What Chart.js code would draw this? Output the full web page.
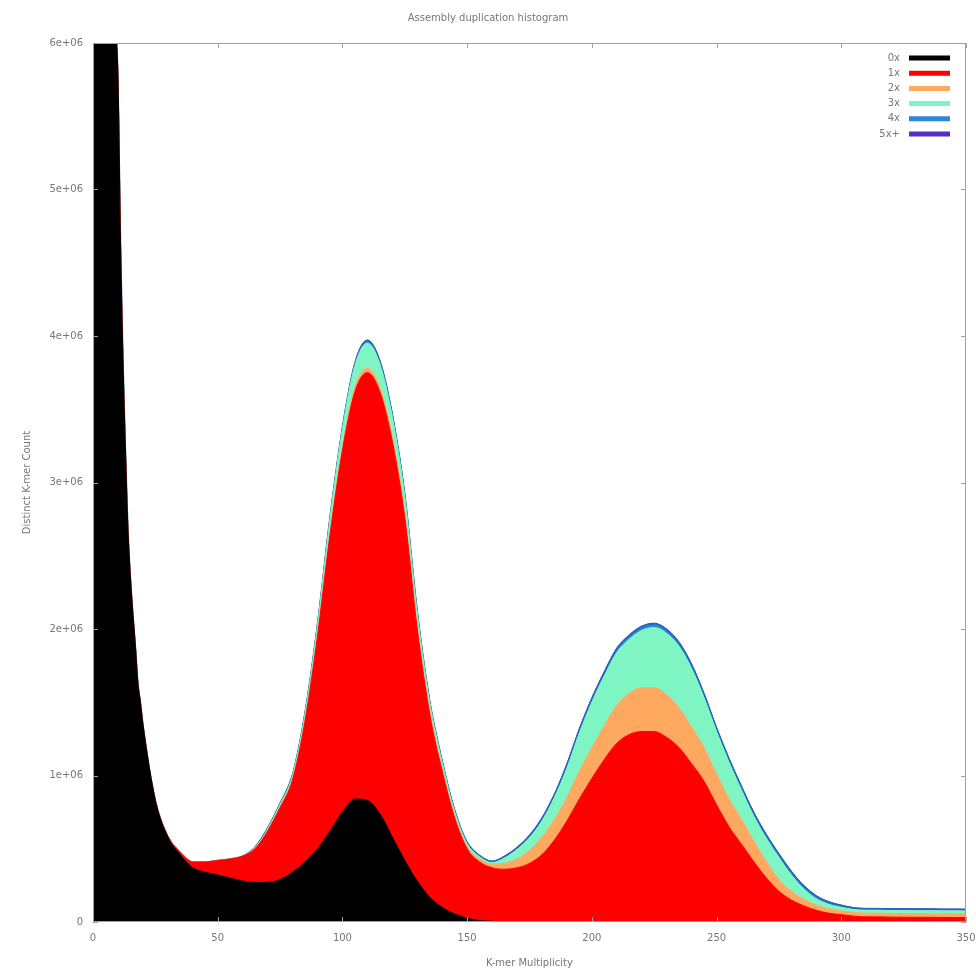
<!DOCTYPE html>
<html>
<head>
<meta charset="UTF-8">
<title>Assembly duplication histogram</title>
<style>
  html, body { margin: 0; padding: 0; background: #fff; }
  #wrap { width: 976px; height: 972px; }
</style>
</head>
<body>
<div id="wrap"><canvas id="cnPlot"></canvas></div>

<script src="https://cdn.jsdelivr.net/npm/chart.js@4.4.1/dist/chart.umd.min.js"></script>
<script>
// k-mer multiplicity (x); fine steps on the steep left part, then every 5
const xs = [
  0, 1, 2, 3, 4, 5, 6, 7, 8, 9, 10, 11, 12, 13, 14, 15, 16, 17, 18, 19, 20,
  25, 30, 35, 40, 45, 50, 55, 60,
  65, 70, 75, 80, 85, 90, 95, 100, 105, 110, 115, 120, 125, 130, 135, 140, 145, 150, 155, 160,
  165, 170, 175, 180, 185, 190, 195, 200, 205, 210, 215, 220, 225, 230, 235, 240, 245,
  250, 255, 260, 265, 270, 275, 280, 285, 290, 295, 300,
  305, 310, 315, 320, 325, 330, 335, 340, 345, 350
];

// distinct k-mer counts per copy number in the assembly, in millions
const count0x = [
  9.5, 9.5, 9.0, 8.5, 8.0, 7.5, 7.0, 6.6, 6.3, 6.1, 5.76, 4.66, 3.84, 3.22, 2.68, 2.35, 2.10, 1.88, 1.63, 1.50, 1.35,
  0.83, 0.58, 0.46, 0.37, 0.34, 0.32, 0.30, 0.28,
  0.27, 0.27, 0.29, 0.34, 0.41, 0.50, 0.62, 0.75, 0.84, 0.83, 0.74, 0.58, 0.42, 0.28, 0.17, 0.10, 0.055, 0.025, 0.01, 0.005,
  0, 0, 0, 0, 0, 0, 0, 0, 0, 0, 0, 0, 0, 0, 0, 0, 0,
  0, 0, 0, 0, 0, 0, 0, 0, 0, 0, 0,
  0, 0, 0, 0, 0, 0, 0, 0, 0, 0
];
const count1x = [
  0, 0, 0, 0, 0, 0, 0, 0, 0, 0, 0, 0, 0, 0, 0, 0, 0, 0, 0, 0, 0,
  0, 0.005, 0.015, 0.04, 0.07, 0.10, 0.13, 0.17,
  0.23, 0.35, 0.49, 0.63, 0.96, 1.45, 2.02, 2.47, 2.78, 2.92, 2.88, 2.70, 2.34, 1.72, 1.25, 0.93, 0.655, 0.475, 0.40, 0.365,
  0.36, 0.37, 0.40, 0.46, 0.56, 0.69, 0.84, 0.98, 1.11, 1.22, 1.28, 1.30, 1.30, 1.26, 1.19, 1.08, 0.96,
  0.80, 0.65, 0.53, 0.41, 0.30, 0.21, 0.15, 0.11, 0.08, 0.06, 0.05,
  0.04, 0.035, 0.035, 0.033, 0.033, 0.032, 0.032, 0.031, 0.031, 0.03
];
const count2x = [
  0, 0, 0, 0, 0, 0, 0, 0, 0, 0, 0, 0, 0, 0, 0, 0, 0, 0, 0, 0, 0,
  0, 0, 0, 0, 0, 0, 0, 0,
  0.003, 0.005, 0.008, 0.01, 0.012, 0.015, 0.02, 0.025, 0.03, 0.03, 0.03, 0.03, 0.025, 0.02, 0.02, 0.015, 0.015, 0.015, 0.02, 0.025,
  0.04, 0.06, 0.09, 0.12, 0.14, 0.16, 0.19, 0.21, 0.23, 0.26, 0.28, 0.30, 0.30, 0.29, 0.27, 0.25, 0.23,
  0.21, 0.19, 0.17, 0.14, 0.11, 0.08, 0.06, 0.045, 0.035, 0.03, 0.025,
  0.025, 0.025, 0.025, 0.025, 0.025, 0.025, 0.025, 0.025, 0.025, 0.025
];
const count3x = [
  0, 0, 0, 0, 0, 0, 0, 0, 0, 0, 0, 0, 0, 0, 0, 0, 0, 0, 0, 0, 0,
  0, 0, 0, 0, 0, 0, 0, 0,
  0.005, 0.01, 0.015, 0.02, 0.04, 0.06, 0.09, 0.12, 0.15, 0.17, 0.16, 0.14, 0.12, 0.09, 0.06, 0.045, 0.03, 0.02, 0.015, 0.01,
  0.037, 0.065, 0.085, 0.11, 0.15, 0.20, 0.26, 0.31, 0.34, 0.36, 0.37, 0.39, 0.41, 0.42, 0.42, 0.40, 0.34,
  0.29, 0.25, 0.20, 0.17, 0.16, 0.15, 0.11, 0.07, 0.043, 0.03, 0.025,
  0.02, 0.02, 0.02, 0.02, 0.02, 0.02, 0.02, 0.02, 0.02, 0.02
];
const count4x = [
  0, 0, 0, 0, 0, 0, 0, 0, 0, 0, 0, 0, 0, 0, 0, 0, 0, 0, 0, 0, 0,
  0, 0, 0, 0, 0, 0, 0, 0,
  0.003, 0.005, 0.005, 0.005, 0.006, 0.007, 0.008, 0.01, 0.015, 0.02, 0.02, 0.015, 0.012, 0.01, 0.008, 0.008, 0.008, 0.008, 0.008, 0.008,
  0.01, 0.012, 0.015, 0.018, 0.02, 0.025, 0.025, 0.025, 0.025, 0.025, 0.025, 0.025, 0.025, 0.025, 0.025, 0.025, 0.025,
  0.022, 0.022, 0.022, 0.022, 0.022, 0.022, 0.022, 0.02, 0.018, 0.015, 0.012,
  0.01, 0.01, 0.01, 0.01, 0.01, 0.01, 0.01, 0.01, 0.01, 0.01
];
const count5x = [
  0, 0, 0, 0, 0, 0, 0, 0, 0, 0, 0, 0, 0, 0, 0, 0, 0, 0, 0, 0, 0,
  0, 0, 0, 0, 0, 0, 0, 0,
  0.002, 0.002, 0.002, 0.002, 0.002, 0.002, 0.002, 0.002, 0.002, 0.002, 0.002, 0.002, 0.002, 0.002, 0.002, 0.002, 0.002, 0.002, 0.002, 0.002,
  0.003, 0.003, 0.003, 0.003, 0.003, 0.005, 0.005, 0.005, 0.005, 0.005, 0.005, 0.005, 0.005, 0.005, 0.005, 0.005, 0.005,
  0.005, 0.005, 0.005, 0.005, 0.005, 0.005, 0.005, 0.004, 0.004, 0.004, 0.004,
  0.003, 0.003, 0.003, 0.003, 0.003, 0.003, 0.003, 0.003, 0.003, 0.003
];

const seriesLabels = ['0x', '1x', '2x', '3x', '4x', '5x+'];
const seriesValues = [count0x, count1x, count2x, count3x, count4x, count5x];
const seriesColors = ['#000000', '#ff0000', '#ffa860', '#80f5c4', '#2f86d2', '#5530c8'];
const yTickLabels = ['0', '1e+06', '2e+06', '3e+06', '4e+06', '5e+06', '6e+06'];

const textColor = '#777777';
const smallFont = { family: 'DejaVu Sans', size: 10 };

// gnuplot-ish box with inner ticks, plus the "label then sample" key
const framePlugin = {
  id: 'frame',
  afterDatasetsDraw(chart) {
    const { ctx, chartArea: a, scales } = chart;
    ctx.save();
    ctx.strokeStyle = '#a0a0a0';
    ctx.lineWidth = 1;
    ctx.strokeRect(a.left + 0.5, a.top + 0.5, a.right - a.left - 1, a.bottom - a.top - 1);
    ctx.beginPath();
    scales.x.ticks.forEach(t => {
      const px = Math.round(scales.x.getPixelForValue(t.value)) + 0.5;
      ctx.moveTo(px, a.bottom); ctx.lineTo(px, a.bottom - 5);
      ctx.moveTo(px, a.top); ctx.lineTo(px, a.top + 5);
    });
    scales.y.ticks.forEach(t => {
      const py = Math.round(scales.y.getPixelForValue(t.value)) + 0.5;
      ctx.moveTo(a.left, py); ctx.lineTo(a.left + 5, py);
      ctx.moveTo(a.right, py); ctx.lineTo(a.right - 5, py);
    });
    ctx.stroke();

    ctx.font = '10px "DejaVu Sans"';
    ctx.textAlign = 'right';
    ctx.textBaseline = 'middle';
    chart.data.datasets.forEach((ds, i) => {
      const y = 58 + i * 15.2;
      ctx.fillStyle = textColor;
      ctx.fillText(ds.label, 900, y);
      ctx.strokeStyle = ds.backgroundColor;
      ctx.lineWidth = 5;
      ctx.beginPath();
      ctx.moveTo(909, y);
      ctx.lineTo(950, y);
      ctx.stroke();
    });
    ctx.restore();
  }
};

const datasets = seriesLabels.map((label, i) => ({
  label: label,
  data: xs.map((x, j) => ({ x: x, y: seriesValues[i][j] })),
  backgroundColor: seriesColors[i],
  borderColor: i === 4 ? '#1f6cb4' : seriesColors[i],
  borderWidth: i === 4 ? 1.5 : 1,
  fill: i === 0 ? 'origin' : '-1',
  pointRadius: 0,
  cubicInterpolationMode: 'monotone',
  clip: 0
}));

const ctx = document.getElementById('cnPlot').getContext('2d');
new Chart(ctx, {
  type: 'line',
  data: { datasets: datasets },
  plugins: [framePlugin],
  options: {
    responsive: true,
    maintainAspectRatio: false,
    animation: false,
    layout: { padding: { left: 0, right: 0, top: 0, bottom: 0 } },
    scales: {
      x: {
        type: 'linear',
        min: 0,
        max: 350,
        ticks: { stepSize: 50, color: textColor, font: smallFont, padding: 10, maxRotation: 0 },
        grid: { display: false, drawTicks: false },
        border: { display: false },
        title: { display: true, text: 'K-mer Multiplicity', color: textColor, font: smallFont, padding: { top: 0, bottom: 3 } },
        afterFit(s) { s.height = 50; s.paddingRight = 10; }
      },
      y: {
        type: 'linear',
        stacked: true,
        min: 0,
        max: 6,
        ticks: { stepSize: 1, color: textColor, font: smallFont, padding: 10, callback: (v, i) => yTickLabels[i] },
        grid: { display: false, drawTicks: false },
        border: { display: false },
        title: { display: true, text: 'Distinct K-mer Count', color: textColor, font: smallFont, padding: { top: 21, bottom: 0 } },
        afterFit(s) { s.width = 93; }
      }
    },
    plugins: {
      title: {
        display: true,
        text: 'Assembly duplication histogram',
        color: textColor,
        font: { family: 'DejaVu Sans', size: 10, weight: 'normal' },
        padding: { top: 12, bottom: 19 }
      },
      legend: { display: false },
      tooltip: { enabled: false }
    }
  }
});
</script>
</body>
</html>
